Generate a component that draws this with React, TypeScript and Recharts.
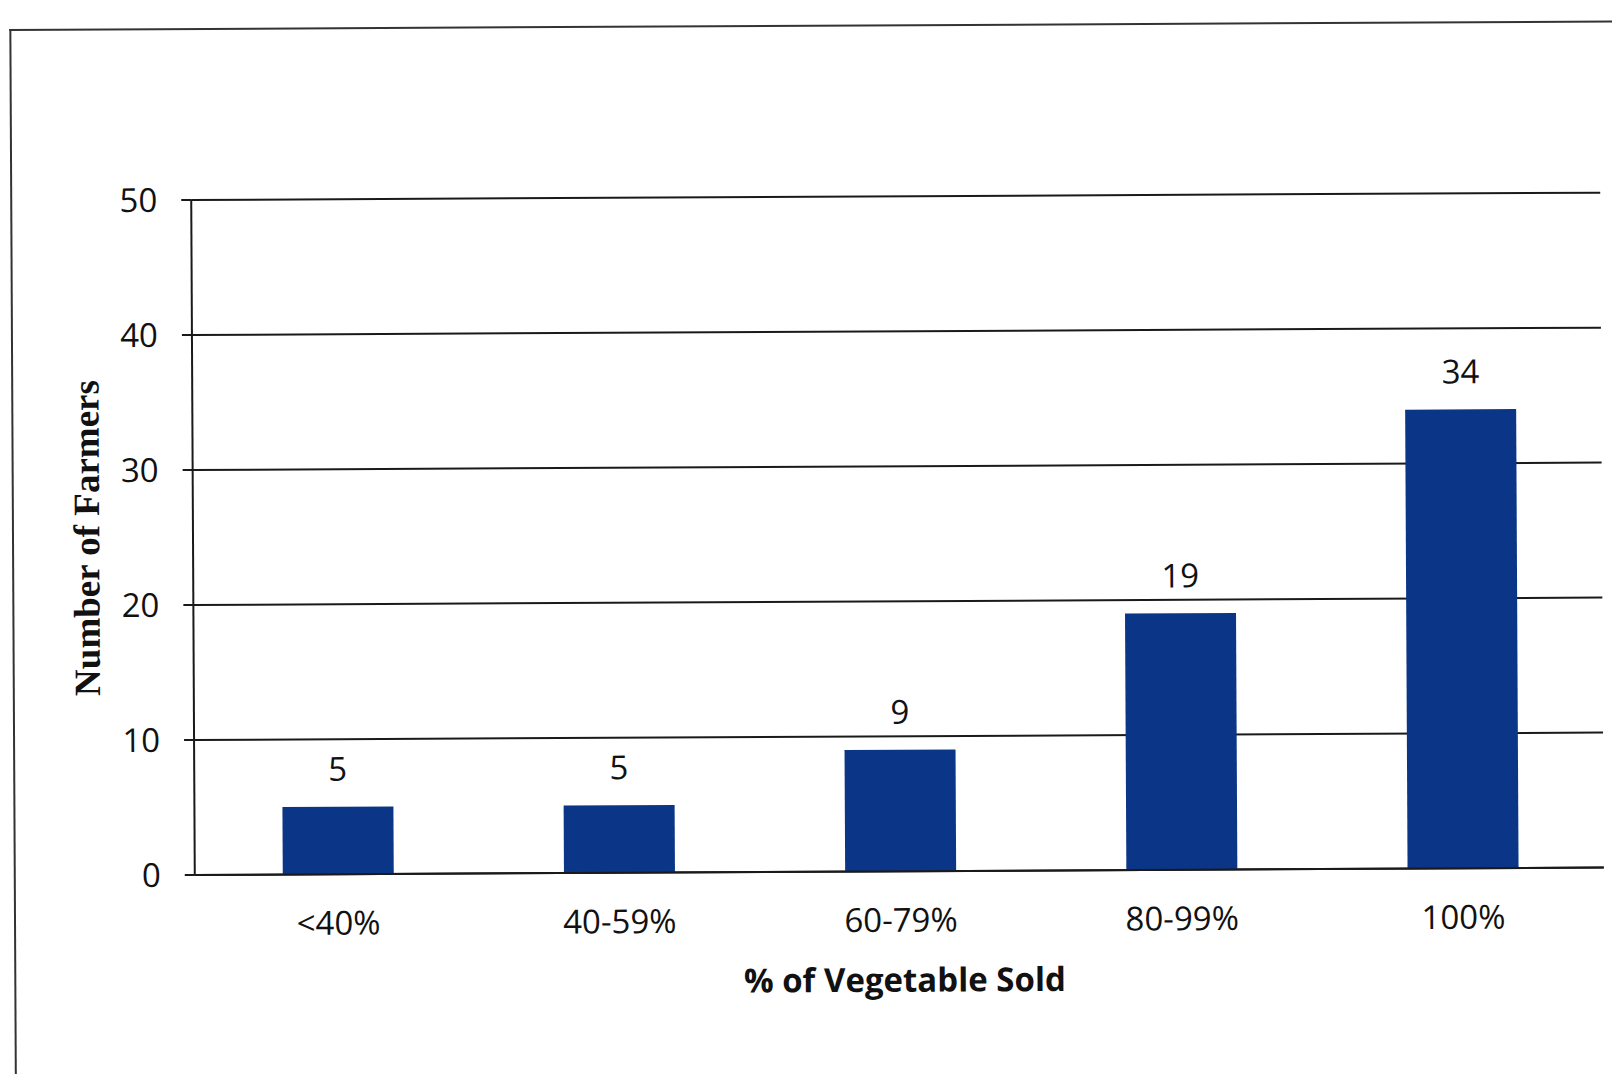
import React from 'react';
import { BarChart, Bar, XAxis, YAxis, CartesianGrid, LabelList } from 'recharts';

const categories = ['<40%', '40-59%', '60-79%', '80-99%', '100%'];
const farmers = [5, 5, 9, 19, 34];
const yTicks = [0, 10, 20, 30, 40, 50];

const data = categories.map((c, i) => ({ category: c, farmers: farmers[i] }));

const tickFont = { fontFamily: '"Open Sans", sans-serif', fontSize: 33, fill: '#111' };

export default function App() {
  return (
    <div
      style={{
        position: 'absolute',
        left: 0,
        top: 0,
        width: 1612,
        height: 1074,
        overflow: 'hidden',
        background: '#fff',
      }}
    >
      <div
        style={{
          position: 'absolute',
          left: 0,
          top: 0,
          width: 1612,
          height: 1074,
          transform: 'rotate(-0.3deg)',
          transformOrigin: '193px 537px',
        }}
      >
        <div
          style={{
            position: 'absolute',
            left: 12,
            top: 28,
            width: 1700,
            height: 1200,
            borderTop: '2px solid #333',
            borderLeft: '2px solid #333',
          }}
        />
        <div style={{ position: 'absolute', left: 0, top: 0 }}>
          <BarChart
            width={1612}
            height={1074}
            data={data}
            margin={{ top: 200, right: 10, bottom: 49, left: 0 }}
          >
            <CartesianGrid vertical={false} stroke="#1a1a1a" strokeWidth={2} />
            <XAxis
              dataKey="category"
              height={150}
              axisLine={{ stroke: '#1a1a1a', strokeWidth: 2 }}
              tickLine={false}
              tickSize={6}
              tickMargin={31}
              tick={tickFont}
              padding={{ left: 3, right: 0 }}
              label={{
                value: '% of Vegetable Sold',
                position: 'insideTop',
                offset: 97,
                dx: 5,
                style: {
                  fontFamily: '"Open Sans", sans-serif',
                  fontSize: 33,
                  fontWeight: 700,
                  fill: '#111',
                },
              }}
            />
            <YAxis
              width={193}
              domain={[0, 50]}
              ticks={yTicks}
              interval={0}
              axisLine={{ stroke: '#1a1a1a', strokeWidth: 2 }}
              tickLine={{ stroke: '#1a1a1a', strokeWidth: 2 }}
              tickSize={10}
              tickMargin={24}
              tick={tickFont}
              label={{
                value: 'Number of Farmers',
                angle: -90,
                position: 'insideLeft',
                offset: 86,
                style: {
                  fontFamily: '"Liberation Serif", "DejaVu Serif", serif',
                  fontSize: 37,
                  fontWeight: 700,
                  fill: '#111',
                  textAnchor: 'middle',
                },
              }}
            />
            <Bar dataKey="farmers" fill="#0b3688" barSize={111} isAnimationActive={false}>
              <LabelList
                dataKey="farmers"
                position="top"
                offset={26}
                style={tickFont}
              />
            </Bar>
          </BarChart>
        </div>
      </div>
    </div>
  );
}
